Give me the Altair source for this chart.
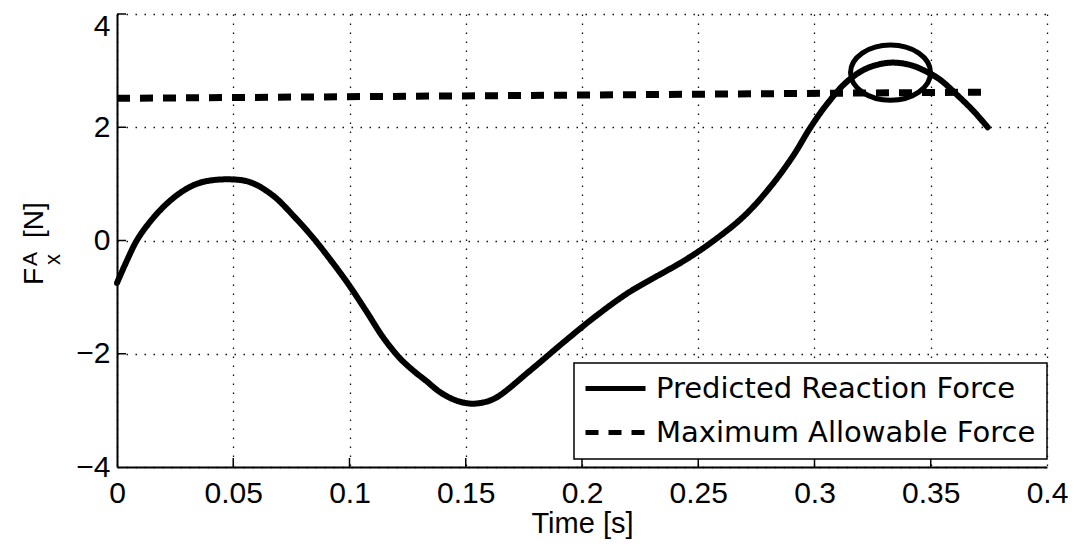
import altair as alt
import pandas as pd

# ---- data ----
t_pred = [0.0, 0.0042, 0.0085, 0.0142, 0.0214, 0.0286, 0.0357, 0.0465, 0.0572, 0.0672,
          0.0758, 0.0845, 0.0916, 0.0995, 0.1074, 0.1146, 0.1217, 0.1275, 0.133, 0.139,
          0.1455, 0.1518, 0.1575, 0.1633, 0.1776, 0.192, 0.2055, 0.22, 0.2335, 0.243,
          0.2551, 0.2694, 0.2809, 0.2909, 0.298, 0.3052, 0.3138, 0.3225, 0.3325, 0.3411,
          0.3483, 0.354, 0.3611, 0.3683, 0.3745]
f_pred = [-0.75, -0.36, 0.0, 0.33, 0.65, 0.88, 1.02, 1.08, 1.03, 0.79,
          0.44, 0.04, -0.33, -0.77, -1.26, -1.72, -2.08, -2.30, -2.48, -2.68,
          -2.82, -2.88, -2.86, -2.77, -2.30, -1.80, -1.35, -0.92, -0.60, -0.38,
          -0.05, 0.42, 0.94, 1.50, 1.98, 2.40, 2.80, 3.04, 3.14, 3.10,
          2.98, 2.84, 2.58, 2.29, 2.0]
t_max = [0.0, 0.372]
f_max = [2.51, 2.62]
ellipse_t = [0.3327]
ellipse_f = [2.965]
x_ticks = [0, 0.05, 0.1, 0.15, 0.2, 0.25, 0.3, 0.35, 0.4]
y_ticks = [-4, -2, 0, 2, 4]
series = ["Predicted Reaction Force", "Maximum Allowable Force"]

pred_df = pd.DataFrame({"t": t_pred, "f": f_pred, "series": series[0]})
max_df = pd.DataFrame({"t": t_max, "f": f_max, "series": series[1]})
ell_df = pd.DataFrame({"t": ellipse_t, "f": ellipse_f})
xt_df = pd.DataFrame({"t": x_ticks[1:-1]})
yt_df = pd.DataFrame({"f": y_ticks[1:]})
one = pd.DataFrame({"k": [0]})

H = 453
xs = alt.Scale(domain=[0, 0.4], nice=False, zero=False)
ys = alt.Scale(domain=[-4, 4], nice=False, zero=False)
dash_scale = alt.Scale(domain=series, range=[[1, 0], [13, 10]])

x_axis = alt.Axis(values=x_ticks, format="~g", title="Time [s]", labelFlush=False,
                  ticks=False, tickSize=0, labelPadding=11,
                  titleY=65, titleBaseline="alphabetic")
y_axis = alt.Axis(values=y_ticks, title=None, ticks=False, tickSize=0, labelPadding=7,
                  labelFlush=False,
                  labelOffset={"condition": {"test": "datum.value == 4", "value": 12.5}, "value": 0})

legend = alt.Legend(title=None, orient="none", legendX=457, legendY=349)

X = alt.X("t:Q", scale=xs, axis=x_axis)
Y = alt.Y("f:Q", scale=ys, axis=y_axis)

pred = alt.Chart(pred_df).mark_line(color="black", strokeWidth=6, interpolate="catmull-rom",
                                    strokeCap="round").encode(
    x=X, y=Y,
    strokeDash=alt.StrokeDash("series:N", scale=dash_scale, legend=legend),
)

mx = alt.Chart(max_df).mark_line(color="black", strokeWidth=7).encode(
    x=X, y=Y,
    strokeDash=alt.StrokeDash("series:N", scale=dash_scale, legend=legend),
)

ellipse_path = ("M-1,0 C-1,-0.381 -0.5523,-0.69 0,-0.69 C0.5523,-0.69 1,-0.381 1,0 "
                "C1,0.381 0.5523,0.69 0,0.69 C-0.5523,0.69 -1,0.381 -1,0 Z")
ell = alt.Chart(ell_df).mark_point(shape=ellipse_path, size=6400, filled=False,
                                   color="black", strokeWidth=5, opacity=1).encode(
    x=X, y=Y,
)

xtick = alt.Chart(xt_df).mark_rule(color="black", strokeWidth=1.5).encode(
    x=X, y=alt.value(H), y2=alt.value(H - 9))
ytick = alt.Chart(yt_df).mark_rule(color="black", strokeWidth=1.5).encode(
    y=Y, x=alt.value(0), x2=alt.value(9))


def ypart(txt, x, y, size):
    return alt.Chart(one).mark_text(text=txt, angle=270, align="left", baseline="alphabetic",
                                    font="Liberation Sans", fontSize=size, color="black").encode(
        x=alt.value(x), y=alt.value(y))


ytitle = [ypart("F", -74, 271, 28), ypart("A", -80, 252, 21),
          ypart("x", -57, 251, 22), ypart("[N]", -74, 224, 28)]

chart = alt.layer(pred, mx, ell, xtick, ytick, *ytitle).properties(
    width=930, height=H,
    autosize=alt.AutoSizeParams(type="none"),
    padding={"left": 109, "top": 6, "right": 25, "bottom": 73},
    background="white",
).configure_view(stroke=None).configure_axis(
    domainColor="black", domainWidth=2,
    grid=True, gridColor="#111", gridDash=[1.5, 7.5], gridWidth=1.3, gridOpacity=1,
    labelColor="black", labelFont="Liberation Sans", labelFontSize=30,
    titleColor="black", titleFont="Liberation Sans", titleFontSize=29, titleFontWeight="normal",
).configure_legend(
    fillColor="white", strokeColor="black", strokeWidth=1.5, padding=11,
    symbolType="M-3,0H3", symbolSize=400, symbolStrokeWidth=5, symbolStrokeColor="black",
    symbolOffset=16, labelOffset=26, rowPadding=14,
    labelFont="DejaVu Sans", labelFontSize=29, labelColor="black", labelLimit=600,
)

chart.save("out.html", embed_options={"renderer": "svg", "actions": False})
